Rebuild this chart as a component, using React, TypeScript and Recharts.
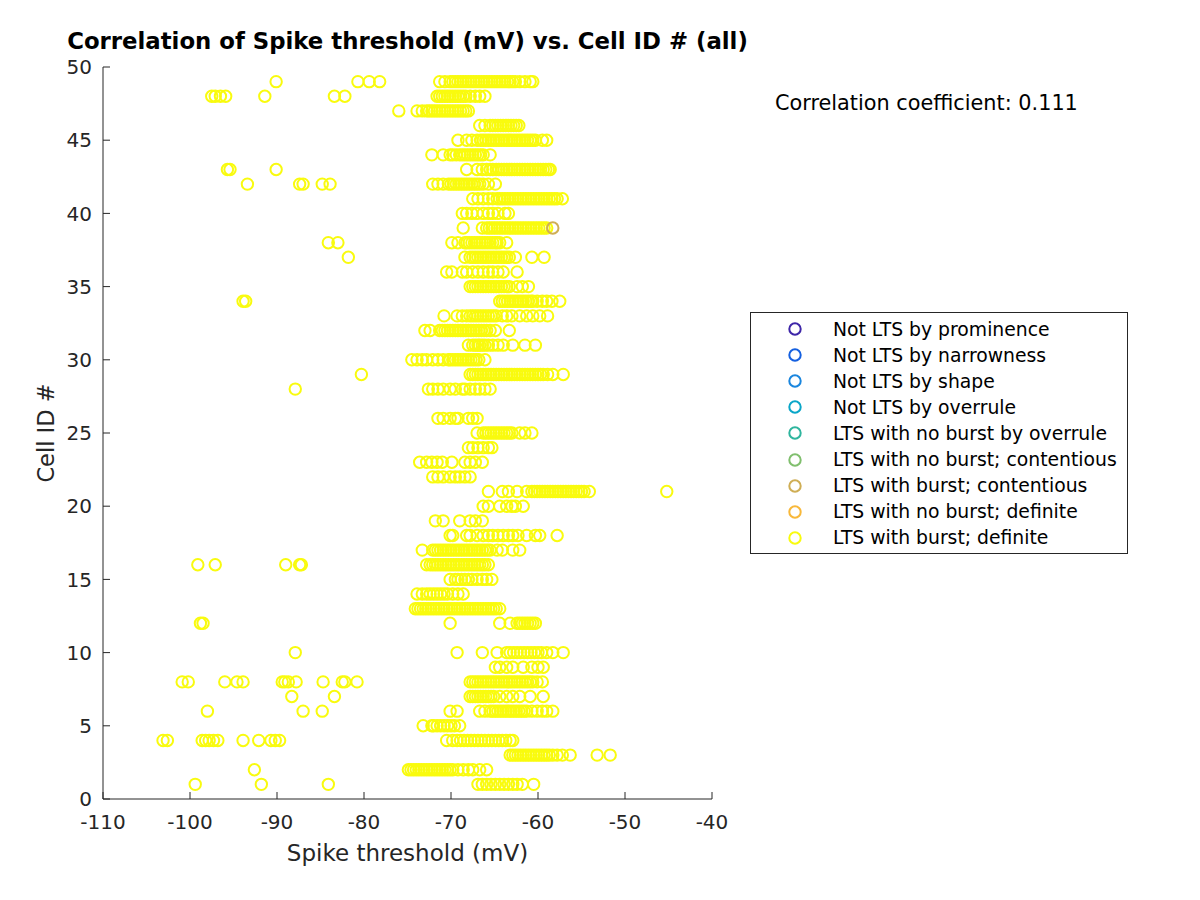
import { ScatterChart, Scatter, XAxis, YAxis } from "recharts";

// axis ticks
const xTicks = [-110, -100, -90, -80, -70, -60, -50, -40];
const yTicks = [0, 5, 10, 15, 20, 25, 30, 35, 40, 45, 50];

// legend entries (parula colour order)
const legendLabels = [
  "Not LTS by prominence",
  "Not LTS by narrowness",
  "Not LTS by shape",
  "Not LTS by overrule",
  "LTS with no burst by overrule",
  "LTS with no burst; contentious",
  "LTS with burst; contentious",
  "LTS with no burst; definite",
  "LTS with burst; definite",
];
const legendColors = [
  "#3e26a8",
  "#1560e0",
  "#1a86de",
  "#0aa6c8",
  "#2fb59e",
  "#80bf6e",
  "#cfae55",
  "#f8b83a",
  "#f9fb0e",
];

// spike thresholds (mV) per cell, "LTS with burst; definite"
const definiteRows: { cell: number; mV: number[] }[] = [
  { cell: 1, mV: [-99.4, -91.8, -84.1, -66.9, -66.4, -65.9, -65.4, -64.9, -64.4, -63.9, -63.4, -62.9, -62.4, -61.8, -60.5] },
  { cell: 2, mV: [-92.6, -74.9, -74.6, -74.3, -74.0, -73.7, -73.4, -73.1, -72.8, -72.5, -72.2, -71.9, -71.6, -71.3, -71.0, -70.7, -70.4, -70.1, -69.8, -69.2, -68.6, -68.0, -67.5, -66.7, -65.9] },
  { cell: 3, mV: [-63.2, -62.9, -62.6, -62.3, -62.0, -61.7, -61.4, -61.1, -60.8, -60.5, -60.2, -59.9, -59.6, -59.3, -59.0, -58.7, -58.3, -57.8, -57.2, -56.3, -53.2, -51.7] },
  { cell: 4, mV: [-103.1, -102.6, -98.6, -98.2, -97.8, -97.3, -96.8, -93.9, -92.1, -90.7, -90.2, -89.7, -70.5, -69.8, -69.3, -68.9, -68.5, -68.1, -67.7, -67.3, -66.9, -66.5, -66.1, -65.7, -65.3, -64.9, -64.5, -64.1, -63.7, -63.2, -62.9] },
  { cell: 5, mV: [-73.2, -72.2, -72.0, -71.6, -71.2, -70.8, -70.4, -70.0, -69.6, -69.0] },
  { cell: 6, mV: [-98.0, -87.0, -84.8, -70.1, -69.3, -66.7, -66.1, -65.5, -65.2, -64.9, -64.6, -64.3, -64.0, -63.7, -63.4, -63.1, -62.8, -62.5, -62.2, -61.9, -61.6, -61.3, -60.7, -60.1, -59.5, -59.0, -58.3] },
  { cell: 7, mV: [-88.3, -83.4, -67.8, -67.5, -67.2, -66.9, -66.6, -66.3, -66.0, -65.7, -65.4, -65.1, -64.4, -63.6, -62.9, -62.1, -60.9, -59.4] },
  { cell: 8, mV: [-100.9, -100.2, -96.0, -94.6, -93.9, -89.4, -89.1, -88.7, -87.8, -84.7, -82.5, -82.2, -80.8, -67.8, -67.5, -67.2, -66.9, -66.6, -66.3, -66.0, -65.7, -65.4, -65.1, -64.8, -64.5, -64.2, -63.9, -63.6, -63.3, -63.0, -62.7, -62.4, -62.1, -61.8, -61.5, -61.2, -60.9, -60.6, -60.1, -59.5] },
  { cell: 9, mV: [-64.9, -64.4, -63.6, -62.9, -61.7, -60.7, -60.0, -59.4] },
  { cell: 10, mV: [-87.9, -69.3, -66.4, -64.7, -63.6, -63.2, -62.8, -62.4, -62.0, -61.6, -61.2, -60.8, -60.4, -60.0, -59.6, -59.0, -58.3, -57.1] },
  { cell: 12, mV: [-98.8, -98.5, -70.1, -64.4, -63.2, -62.4, -62.1, -61.8, -61.5, -61.2, -60.9, -60.6, -60.3] },
  { cell: 13, mV: [-74.1, -73.8, -73.5, -73.2, -72.9, -72.6, -72.3, -72.0, -71.7, -71.4, -71.1, -70.8, -70.5, -70.2, -69.9, -69.6, -69.3, -69.0, -68.7, -68.4, -68.1, -67.8, -67.5, -67.2, -66.9, -66.6, -66.3, -66.0, -65.7, -65.4, -65.1, -64.8, -64.4] },
  { cell: 14, mV: [-73.9, -73.3, -72.8, -72.4, -72.0, -71.6, -71.2, -70.8, -70.4, -69.8, -69.2, -68.6] },
  { cell: 15, mV: [-70.1, -69.5, -69.2, -68.8, -68.4, -68.0, -67.6, -67.0, -66.4, -65.9, -65.3] },
  { cell: 16, mV: [-99.1, -97.1, -89.0, -87.4, -87.2, -72.8, -72.4, -72.1, -71.8, -71.5, -71.2, -70.9, -70.6, -70.3, -70.0, -69.7, -69.4, -69.1, -68.8, -68.5, -68.2, -67.9, -67.6, -67.3, -67.0, -66.7, -66.4, -66.1, -65.7] },
  { cell: 17, mV: [-73.3, -72.1, -71.8, -71.5, -71.2, -70.9, -70.6, -70.3, -70.0, -69.7, -69.4, -69.1, -68.8, -68.5, -68.2, -67.9, -67.6, -67.3, -67.0, -66.7, -66.4, -66.1, -65.8, -65.5, -64.7, -64.1, -62.9, -62.1] },
  { cell: 18, mV: [-70.1, -69.8, -68.2, -67.8, -67.0, -66.3, -65.7, -65.2, -64.6, -64.0, -63.4, -62.9, -62.3, -61.3, -60.3, -59.8, -57.8] },
  { cell: 19, mV: [-71.8, -70.9, -69.0, -67.8, -67.2, -66.4] },
  { cell: 20, mV: [-66.3, -65.7, -64.4, -63.6, -63.0, -62.6, -61.7] },
  { cell: 21, mV: [-65.7, -64.1, -63.4, -62.4, -61.3, -60.7, -60.4, -60.1, -59.8, -59.5, -59.2, -58.9, -58.6, -58.3, -58.0, -57.7, -57.4, -57.1, -56.8, -56.5, -56.2, -55.9, -55.6, -55.3, -55.0, -54.7, -54.1, -45.2] },
  { cell: 22, mV: [-72.1, -71.5, -70.9, -70.1, -69.5, -69.0, -68.4, -67.8] },
  { cell: 23, mV: [-73.6, -72.8, -72.2, -71.6, -71.0, -69.9, -68.4, -67.8, -67.2, -66.4] },
  { cell: 24, mV: [-68.0, -67.5, -66.9, -66.3, -65.7, -65.3] },
  { cell: 25, mV: [-67.0, -66.3, -66.0, -65.7, -65.4, -65.1, -64.8, -64.5, -64.2, -63.9, -63.6, -63.3, -63.0, -62.1, -61.5, -60.7] },
  { cell: 26, mV: [-71.5, -70.9, -70.1, -69.5, -69.2, -68.0, -67.5, -67.0] },
  { cell: 28, mV: [-87.9, -72.6, -72.1, -71.5, -70.9, -70.1, -69.5, -68.7, -68.4, -67.8, -67.2, -66.7, -66.1, -65.5] },
  { cell: 29, mV: [-80.3, -67.8, -67.5, -67.2, -66.9, -66.6, -66.3, -66.0, -65.7, -65.4, -65.1, -64.8, -64.5, -64.2, -63.9, -63.6, -63.3, -63.0, -62.7, -62.4, -62.1, -61.8, -61.5, -61.2, -60.9, -60.6, -60.3, -60.0, -59.7, -59.4, -58.9, -58.3, -57.1] },
  { cell: 30, mV: [-74.5, -73.9, -73.3, -72.8, -72.1, -71.5, -70.9, -70.3, -70.1, -69.8, -69.5, -69.2, -68.9, -68.6, -68.3, -68.0, -67.7, -67.4, -67.1, -66.8, -66.1] },
  { cell: 31, mV: [-68.0, -67.5, -67.2, -66.9, -66.7, -66.4, -66.1, -65.7, -65.2, -64.6, -64.0, -62.9, -61.5, -60.3] },
  { cell: 32, mV: [-73.0, -72.4, -71.3, -71.0, -70.7, -70.4, -70.1, -69.8, -69.5, -69.2, -68.9, -68.6, -68.3, -68.0, -67.7, -67.4, -67.1, -66.8, -66.5, -66.2, -65.9, -65.5, -64.9, -63.3] },
  { cell: 33, mV: [-70.8, -69.3, -68.7, -68.2, -67.8, -67.5, -67.2, -66.9, -66.6, -66.3, -66.0, -65.7, -65.4, -65.1, -64.8, -64.1, -63.6, -63.0, -62.1, -61.3, -60.6, -59.8, -58.9] },
  { cell: 34, mV: [-93.9, -93.6, -64.4, -64.1, -63.8, -63.5, -63.2, -62.9, -62.6, -62.3, -62.0, -61.7, -61.4, -61.1, -60.8, -60.6, -60.1, -59.5, -59.0, -58.4, -57.5] },
  { cell: 35, mV: [-67.8, -67.5, -67.2, -66.9, -66.6, -66.3, -66.0, -65.7, -65.4, -65.1, -64.8, -64.5, -64.2, -63.9, -63.6, -63.3, -62.4, -61.8, -61.1] },
  { cell: 36, mV: [-70.5, -69.9, -68.7, -68.2, -67.5, -66.9, -66.3, -65.7, -65.2, -64.6, -64.0, -62.4] },
  { cell: 37, mV: [-81.8, -68.4, -67.8, -67.5, -67.2, -66.9, -66.6, -66.3, -66.0, -65.7, -65.4, -65.1, -64.8, -64.5, -64.2, -63.9, -63.6, -63.3, -62.6, -60.7, -59.3] },
  { cell: 38, mV: [-84.1, -83.0, -69.9, -69.2, -68.4, -68.2, -67.9, -67.6, -67.3, -67.0, -66.7, -66.4, -66.1, -65.8, -65.5, -65.2, -64.9, -64.7, -64.4, -63.6] },
  { cell: 39, mV: [-68.6, -66.4, -65.9, -65.6, -65.3, -65.0, -64.7, -64.4, -64.1, -63.8, -63.5, -63.2, -62.9, -62.6, -62.3, -62.0, -61.7, -61.4, -61.1, -60.8, -60.5, -60.2, -59.9, -59.6, -59.3, -59.0] },
  { cell: 40, mV: [-68.7, -68.2, -67.6, -67.0, -66.3, -65.7, -65.2, -64.6, -63.8, -63.4] },
  { cell: 41, mV: [-67.5, -66.9, -66.3, -65.7, -65.2, -64.7, -64.4, -64.1, -63.8, -63.5, -63.2, -62.9, -62.6, -62.3, -62.0, -61.7, -61.4, -61.1, -60.8, -60.5, -60.2, -59.9, -59.6, -59.3, -59.0, -58.7, -58.4, -58.1, -57.8, -57.2] },
  { cell: 42, mV: [-93.4, -87.4, -87.0, -84.8, -83.9, -72.1, -71.5, -70.9, -70.3, -70.0, -69.7, -69.4, -69.1, -68.8, -68.5, -68.2, -67.9, -67.6, -67.3, -67.0, -66.7, -66.3, -65.7, -64.9] },
  { cell: 43, mV: [-95.7, -95.4, -90.1, -68.2, -67.0, -66.4, -65.9, -65.5, -65.2, -64.8, -64.5, -64.2, -63.9, -63.6, -63.3, -63.0, -62.7, -62.4, -62.1, -61.8, -61.5, -61.2, -60.9, -60.6, -60.3, -60.0, -59.7, -59.4, -59.1, -58.8, -58.6] },
  { cell: 44, mV: [-72.2, -70.9, -70.1, -69.8, -69.4, -69.0, -68.7, -68.4, -68.1, -67.8, -67.5, -67.2, -66.9, -66.6, -66.3, -65.5] },
  { cell: 45, mV: [-69.2, -68.2, -67.6, -67.0, -66.6, -66.3, -66.0, -65.7, -65.4, -65.1, -64.8, -64.5, -64.2, -63.9, -63.6, -63.3, -63.0, -62.7, -62.4, -62.1, -61.8, -61.5, -61.2, -60.9, -60.6, -60.3, -59.5, -59.0] },
  { cell: 46, mV: [-66.7, -66.1, -65.5, -65.2, -64.9, -64.6, -64.3, -64.0, -63.7, -63.4, -63.1, -62.8, -62.5, -62.2] },
  { cell: 47, mV: [-76.0, -73.9, -73.3, -72.8, -72.5, -72.2, -71.9, -71.6, -71.3, -71.0, -70.7, -70.4, -70.1, -69.8, -69.5, -69.2, -68.9, -68.6, -68.3, -68.0] },
  { cell: 48, mV: [-97.5, -97.1, -96.5, -95.9, -91.4, -83.4, -82.2, -71.6, -71.3, -71.0, -70.7, -70.4, -70.1, -69.8, -69.5, -69.2, -68.9, -68.6, -68.3, -67.8, -67.2, -66.7, -66.1] },
  { cell: 49, mV: [-90.1, -80.7, -79.4, -78.2, -71.3, -70.7, -70.1, -69.8, -69.5, -69.2, -68.9, -68.6, -68.3, -68.0, -67.7, -67.4, -67.1, -66.8, -66.5, -66.2, -65.9, -65.6, -65.3, -65.0, -64.7, -64.4, -64.1, -63.8, -63.5, -63.2, -62.9, -62.6, -62.1, -61.5, -60.9, -60.6] },
];

// "LTS with burst; contentious"
const contentiousCells = [39];
const contentiousMV = [-58.3];

const definitePoints = definiteRows.flatMap((r) =>
  r.mV.map((v) => ({ x: v, y: r.cell }))
);
const contentiousPoints = contentiousCells.map((c, i) => ({
  x: contentiousMV[i],
  y: c,
}));

const FONT = "'DejaVu Sans', sans-serif";
const AXIS = "#262626";

const ring = (color: string) => (p: any) =>
  (
    <circle
      cx={p.cx}
      cy={p.cy}
      r={5.7}
      fill="none"
      stroke={color}
      strokeWidth={2}
    />
  );

const noLabel = () => <g />;

export default function App() {
  const tickStyle = { fill: AXIS, fontSize: 20, fontFamily: FONT };
  return (
    <div
      style={{
        position: "absolute",
        left: 0,
        top: 0,
        width: 1200,
        height: 900,
        background: "#fff",
        fontFamily: FONT,
      }}
    >
      <ScatterChart
        width={1200}
        height={900}
        margin={{ top: 67, right: 488, bottom: 61, left: 43 }}
      >
        <XAxis
          type="number"
          dataKey="x"
          domain={[-110, -40]}
          ticks={xTicks}
          allowDataOverflow
          height={40}
          tickSize={-7}
          tickMargin={23}
          tick={tickStyle}
          stroke={AXIS}
        />
        <XAxis
          xAxisId="top"
          orientation="top"
          type="number"
          domain={[-110, -40]}
          ticks={xTicks}
          height={0}
          tickSize={-7}
          tick={noLabel}
          stroke={AXIS}
        />
        <YAxis
          type="number"
          dataKey="y"
          domain={[0, 50]}
          ticks={yTicks}
          allowDataOverflow
          width={60}
          tickSize={-7}
          tickMargin={18}
          tick={tickStyle}
          stroke={AXIS}
        />
        <YAxis
          yAxisId="right"
          orientation="right"
          type="number"
          domain={[0, 50]}
          ticks={yTicks}
          width={0}
          tickSize={-7}
          tick={noLabel}
          stroke={AXIS}
        />
        <Scatter
          data={definitePoints}
          shape={ring(legendColors[8])}
          isAnimationActive={false}
        />
        <Scatter
          data={contentiousPoints}
          shape={ring(legendColors[6])}
          isAnimationActive={false}
        />
      </ScatterChart>

      <div
        style={{
          position: "absolute",
          left: 0,
          width: 815,
          top: 31,
          lineHeight: "21px",
          textAlign: "center",
          fontWeight: "bold",
          fontSize: 22.8,
          color: "#000",
          whiteSpace: "nowrap",
        }}
      >
        Correlation of Spike threshold (mV) vs. Cell ID # (all)
      </div>

      <div
        style={{
          position: "absolute",
          left: 0,
          width: 815,
          top: 839,
          lineHeight: "28px",
          textAlign: "center",
          fontSize: 23,
          color: AXIS,
        }}
      >
        Spike threshold (mV)
      </div>

      <div
        style={{
          position: "absolute",
          left: 46 - 100,
          top: 433 - 14,
          width: 200,
          lineHeight: "28px",
          textAlign: "center",
          fontSize: 22.5,
          color: AXIS,
          transform: "rotate(-90deg)",
        }}
      >
        Cell ID #
      </div>

      <div
        style={{
          position: "absolute",
          left: 775,
          top: 90,
          lineHeight: "26px",
          fontSize: 20.8,
          color: "#000",
          whiteSpace: "nowrap",
        }}
      >
        Correlation coefficient: 0.111
      </div>

      <div
        style={{
          position: "absolute",
          left: 750,
          top: 312,
          width: 376,
          height: 240,
          border: "1px solid #262626",
          background: "#fff",
        }}
      >
        {legendLabels.map((label, i) => (
          <div
            key={label}
            style={{
              position: "absolute",
              left: 0,
              top: 3 + i * 26.1,
              height: 26,
              display: "flex",
              alignItems: "center",
              whiteSpace: "nowrap",
            }}
          >
            <svg width={82} height={26} style={{ display: "block" }}>
              <circle
                cx={44}
                cy={13}
                r={5.7}
                fill="none"
                stroke={legendColors[i]}
                strokeWidth={2}
              />
            </svg>
            <span style={{ fontSize: 18.8, color: "#000" }}>{label}</span>
          </div>
        ))}
      </div>
    </div>
  );
}
